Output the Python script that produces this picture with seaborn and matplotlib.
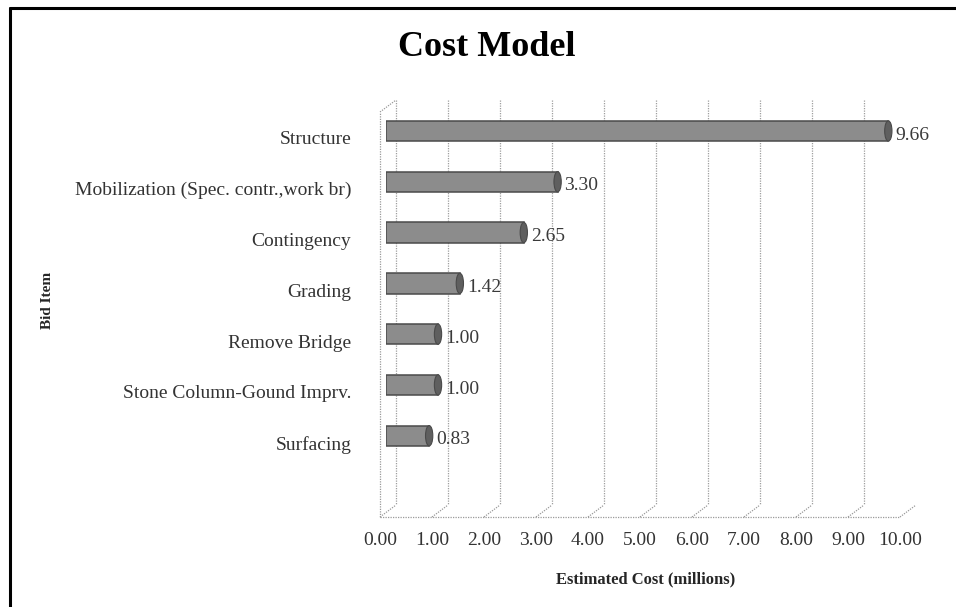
import matplotlib
matplotlib.use('Agg')
import matplotlib.pyplot as plt
import matplotlib.transforms as mtransforms
from matplotlib.lines import Line2D
from matplotlib.patches import Ellipse
import pandas as pd
import seaborn as sns

# dados
items = ['Structure', 'Mobilization (Spec. contr.,work br)', 'Contingency', 'Grading',
         'Remove Bridge', 'Stone Column-Gound Imprv.', 'Surfacing']
costs = [9.66, 3.30, 2.65, 1.42, 1.00, 1.00, 0.83]
x_ticks = [0, 1, 2, 3, 4, 5, 6, 7, 8, 9, 10]

df = pd.DataFrame({'item': items, 'cost': costs})

sns.set_theme(style='white')
plt.rcParams['font.family'] = ['Liberation Serif', 'DejaVu Serif']

fig = plt.figure(figsize=(9.56, 6.07), dpi=100)
W, H = 956, 607
ax = fig.add_axes([386 / W, 1 - 517 / H, 520 / W, 417 / H])

bar_h = 0.4
sns.barplot(data=df, x='cost', y='item', ax=ax, orient='h', width=bar_h,
            color='#8c8c8c', edgecolor='#4a4a4a', linewidth=1.1, saturation=1)

# tampa arredondada no fim de cada barra (efeito cilindro)
for p in ax.patches:
    yc = p.get_y() + p.get_height() / 2
    ax.add_patch(Ellipse((p.get_width(), yc), 0.14, p.get_height(),
                         facecolor='#5f5f5f', edgecolor='#4a4a4a', linewidth=0.8, zorder=3))

vals = ax.bar_label(ax.containers[0], labels=[f'{c:.2f}' for c in costs], padding=5,
                    fontsize=14, color='#3a3a3a')
# rotulos um pouco abaixo do centro da barra, como no original
for v in vals:
    v.xyann = (v.xyann[0], -3)

ax.set_xlim(0, 10)
ax.set_ylim(7.6, -0.61)
ax.set_xticks(x_ticks)
ax.set_xticklabels([f'{t:.2f}' for t in x_ticks], fontsize=14, color='#333333')
ax.tick_params(axis='x', length=0, pad=11)
ax.tick_params(axis='y', length=0, pad=25, labelsize=14, labelcolor='#333333')
for s in ax.spines.values():
    s.set_visible(False)

# deslocar os rotulos para a frente do "piso"
shift_x = mtransforms.ScaledTranslation(-6 / 100, 0, fig.dpi_scale_trans)
for lab in ax.get_xticklabels():
    lab.set_transform(lab.get_transform() + shift_x)
shift_y = mtransforms.ScaledTranslation(0, -7 / 100, fig.dpi_scale_trans)
for lab in ax.get_yticklabels():
    lab.set_transform(lab.get_transform() + shift_y)

ax.set_xlabel('Estimated Cost (millions)', fontsize=12, fontweight='bold', labelpad=16)
ax.set_ylabel('Bid Item', fontsize=11, fontweight='bold')
ax.yaxis.set_label_coords(-0.638, 0.52)

# parede do fundo e piso em perspectiva (efeito 3D)
back = mtransforms.offset_copy(ax.transData, fig=fig, x=10, y=0, units='dots')
ax.vlines(x_ticks, -0.61, 7.36, transform=back, colors='#9e9e9e', linewidth=0.9,
          linestyles=(0, (1, 1)), zorder=0)
fig.canvas.draw()
grid_kw = dict(color='#9a9a9a', linewidth=0.9, linestyle=(0, (1, 1)))
x0, yb = ax.transData.transform((0, 7.6))
x10, _ = ax.transData.transform((10, 7.6))
fig.add_artist(Line2D([x0 - 6, x10 - 6], [yb, yb], transform=None, **grid_kw))
x0t, yt = ax.transData.transform((0, -0.61))
fig.add_artist(Line2D([x0t - 6, x0t - 6], [yb, yt - 12], transform=None, **grid_kw))
fig.add_artist(Line2D([x0t - 6, x0t + 10], [yt - 12, yt], transform=None, **grid_kw))
for t in x_ticks:
    px, py = ax.transData.transform((t, 7.6))
    fig.add_artist(Line2D([px - 6, px + 10], [py, py + 12], transform=None, **grid_kw))

# titulo
fig.text(487 / W, 1 - 47 / H, 'Cost Model', fontsize=26, fontweight='bold',
         ha='center', va='center', color='black')

# moldura preta (esquerda e topo)
fig.add_artist(Line2D([10 / W, 10 / W], [0, 1 - 8 / H], transform=fig.transFigure,
                      color='black', linewidth=2.2))
fig.add_artist(Line2D([10 / W, 1], [1 - 8 / H, 1 - 8 / H], transform=fig.transFigure,
                      color='black', linewidth=2.2))

fig.savefig('out.png', dpi=100)
